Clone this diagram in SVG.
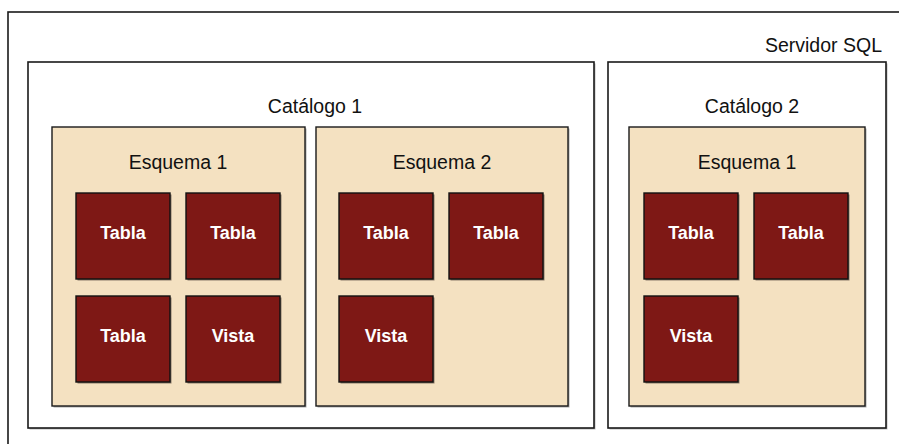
<svg xmlns="http://www.w3.org/2000/svg" width="899" height="444" viewBox="0 0 899 444">
<style>
.box{fill:#ffffff;stroke:#1a1a1a;stroke-width:1.6}
.sch{fill:#F4E1C1;stroke:#1a1a1a;stroke-width:1.4}
.tbl{fill:#7E1815;stroke:#111111;stroke-width:1.4}
.sh{fill:none;stroke:#9a9a9a;stroke-width:1}
.lbl{font-family:"Liberation Sans",Arial,sans-serif;font-size:19.5px;fill:#111111}
.tt{font-family:"Liberation Sans",Arial,sans-serif;font-size:18px;font-weight:bold;fill:#ffffff;text-anchor:middle}
</style>
<g id="servidor">
<rect class="box" x="8" y="12" width="900" height="450"/>
<text class="lbl" x="882" y="52" text-anchor="end">Servidor SQL</text>
</g>
<g id="catalogo1">
<rect x="29.5" y="63.5" width="566" height="366" fill="#bbbbbb"/>
<rect class="box" x="28" y="62" width="566" height="366"/>
<text class="lbl" x="315" y="113" text-anchor="middle">Catálogo 1</text>
</g>
<g id="catalogo2">
<rect x="609.5" y="63.5" width="278" height="366" fill="#bbbbbb"/>
<rect class="box" x="608" y="62" width="278" height="366"/>
<text class="lbl" x="752" y="113" text-anchor="middle">Catálogo 2</text>
</g>
<g id="c1-esquema1">
<rect x="53.5" y="128.5" width="253" height="279" fill="#aaaaaa"/>
<rect class="sch" x="52" y="127" width="253" height="279"/>
<text class="lbl" x="178" y="169" text-anchor="middle">Esquema 1</text>
</g>
<g id="c1-esquema2">
<rect x="317.5" y="128.5" width="252" height="279" fill="#aaaaaa"/>
<rect class="sch" x="316" y="127" width="252" height="279"/>
<text class="lbl" x="442" y="169" text-anchor="middle">Esquema 2</text>
</g>
<g id="c2-esquema1">
<rect x="630.5" y="128.5" width="236" height="279" fill="#aaaaaa"/>
<rect class="sch" x="629" y="127" width="236" height="279"/>
<text class="lbl" x="747" y="169" text-anchor="middle">Esquema 1</text>
</g>
<g id="c1e1-tabla1"><rect x="77.5" y="194.5" width="94" height="86" fill="#8a7a6a"/><rect class="tbl" x="76" y="193" width="94" height="86"/><text class="tt" x="123" y="239">Tabla</text></g>
<g id="c1e1-tabla2"><rect x="187.5" y="194.5" width="94" height="86" fill="#8a7a6a"/><rect class="tbl" x="186" y="193" width="94" height="86"/><text class="tt" x="233" y="239">Tabla</text></g>
<g id="c1e1-tabla3"><rect x="77.5" y="297.5" width="94" height="86" fill="#8a7a6a"/><rect class="tbl" x="76" y="296" width="94" height="86"/><text class="tt" x="123" y="342">Tabla</text></g>
<g id="c1e1-vista"><rect x="187.5" y="297.5" width="94" height="86" fill="#8a7a6a"/><rect class="tbl" x="186" y="296" width="94" height="86"/><text class="tt" x="233" y="342">Vista</text></g>
<g id="c1e2-tabla1"><rect x="340.5" y="194.5" width="94" height="86" fill="#8a7a6a"/><rect class="tbl" x="339" y="193" width="94" height="86"/><text class="tt" x="386" y="239">Tabla</text></g>
<g id="c1e2-tabla2"><rect x="450.5" y="194.5" width="94" height="86" fill="#8a7a6a"/><rect class="tbl" x="449" y="193" width="94" height="86"/><text class="tt" x="496" y="239">Tabla</text></g>
<g id="c1e2-vista"><rect x="340.5" y="297.5" width="94" height="86" fill="#8a7a6a"/><rect class="tbl" x="339" y="296" width="94" height="86"/><text class="tt" x="386" y="342">Vista</text></g>
<g id="c2e1-tabla1"><rect x="645.5" y="194.5" width="94" height="86" fill="#8a7a6a"/><rect class="tbl" x="644" y="193" width="94" height="86"/><text class="tt" x="691" y="239">Tabla</text></g>
<g id="c2e1-tabla2"><rect x="755.5" y="194.5" width="94" height="86" fill="#8a7a6a"/><rect class="tbl" x="754" y="193" width="94" height="86"/><text class="tt" x="801" y="239">Tabla</text></g>
<g id="c2e1-vista"><rect x="645.5" y="297.5" width="94" height="86" fill="#8a7a6a"/><rect class="tbl" x="644" y="296" width="94" height="86"/><text class="tt" x="691" y="342">Vista</text></g>
<g id="connectors"/>
</svg>
